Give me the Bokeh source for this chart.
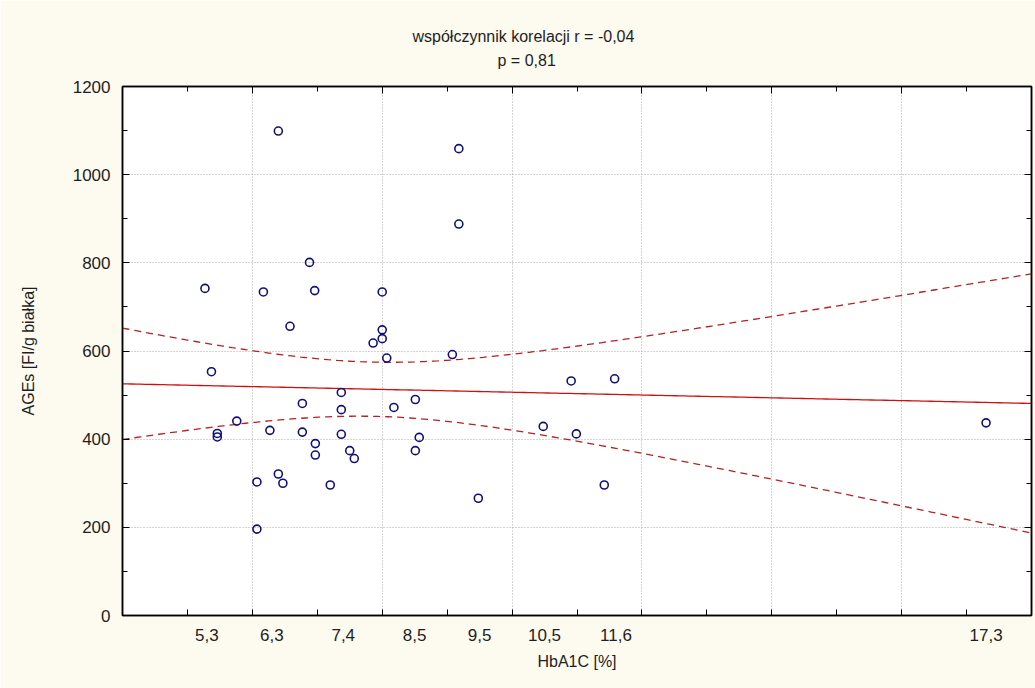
import numpy as np
from bokeh.plotting import figure
from bokeh.models import (FixedTicker, LinearAxis, Range1d, Title,
                          CustomLabelingPolicy, CustomJSTickFormatter)
from bokeh.embed import file_html
from bokeh.resources import INLINE

# HbA1C [%] and AGEs [FI/g białka] for each patient
hba1c = [5.27, 5.37, 5.46, 5.46, 5.76, 6.07, 6.07, 6.17, 6.27, 6.40, 6.40, 6.47,
         6.58, 6.77, 6.77, 6.88, 6.96, 6.97, 6.97, 7.20, 7.37, 7.37, 7.37, 7.50,
         7.57, 7.86, 8.00, 8.00, 8.00, 8.07, 8.18, 8.51, 8.51, 8.57, 9.08, 9.18,
         9.18, 9.48, 10.48, 10.91, 10.99, 11.42, 11.58, 17.30]
ages = [742, 553, 413, 405, 441, 303, 196, 734, 420, 1099, 321, 300,
        656, 481, 416, 801, 737, 390, 364, 296, 506, 467, 411, 374,
        356, 618, 734, 648, 628, 584, 472, 490, 374, 404, 592, 1059,
        888, 266, 429, 532, 412, 296, 537, 437]

x_tick_values = [5.3, 6.3, 7.4, 8.5, 9.5, 10.5, 11.6, 17.3]
x_tick_labels = ["5,3", "6,3", "7,4", "8,5", "9,5", "10,5", "11,6", "17,3"]
y_tick_values = [0, 200, 400, 600, 800, 1000, 1200]

title_line1 = "współczynnik korelacji r = -0,04"
title_line2 = "p = 0,81"

FONT = "Liberation Sans"
TEXT = "#1E1E1E"
BG = "#FDFAF0"

p = figure(width=1035, height=688, output_backend="svg", toolbar_location=None,
           x_range=Range1d(4, 18), y_range=Range1d(0, 1200),
           x_axis_location=None, y_axis_location=None, title=None,
           min_border_left=122, min_border_right=4, min_border_top=86,
           min_border_bottom=73, background_fill_color="white",
           border_fill_color=BG, outline_line_color="black",
           outline_line_width=1.5)

# dotted grid every 2 % and every 200 units
p.xgrid.ticker = FixedTicker(ticks=list(range(6, 18, 2)))
p.ygrid.ticker = FixedTicker(ticks=list(range(200, 1200, 200)))
for g in (p.xgrid, p.ygrid):
    g.grid_line_color = "#A8A8A8"
    g.grid_line_dash = "1 2"
    g.grid_line_width = 1

# least-squares line with 95% confidence band for the mean
x = np.array(hba1c)
y = np.array(ages)
n = len(x)
slope, intercept = np.polyfit(x, y, 1)
resid = y - (intercept + slope * x)
s = np.sqrt(np.sum(resid ** 2) / (n - 2))
sxx = np.sum((x - x.mean()) ** 2)
t_crit = 2.018  # Student t, 0.975, df = 42
xs = np.linspace(4, 18, 200)
fit = intercept + slope * xs
half = t_crit * s * np.sqrt(1.0 / n + (xs - x.mean()) ** 2 / sxx)

p.line(xs, fit, line_color="#D01010", line_width=1.3)
p.line(xs, fit + half, line_color="#B82020", line_width=1.3, line_dash="7 5")
p.line(xs, fit - half, line_color="#B82020", line_width=1.3, line_dash="7 5")

p.scatter(hba1c, ages, marker="circle", size=8, fill_color=None,
          line_color="#10107A", line_width=1.6)

# axes: labelled on left/bottom, tick-only frame on right/top
left = LinearAxis(ticker=FixedTicker(ticks=y_tick_values,
                                     minor_ticks=list(range(100, 1200, 200))),
                  axis_label="AGEs [FI/g białka]")
bottom = LinearAxis(ticker=FixedTicker(ticks=x_tick_values,
                                       minor_ticks=list(range(4, 19))),
                    axis_label="HbA1C [%]")
bottom.major_label_overrides = dict(zip(x_tick_values, x_tick_labels))
right = LinearAxis(ticker=FixedTicker(ticks=y_tick_values,
                                      minor_ticks=list(range(100, 1200, 200))))
top = LinearAxis(ticker=FixedTicker(ticks=list(range(4, 19, 2)),
                                    minor_ticks=list(range(5, 18, 2))))

for ax in (left, bottom, right, top):
    ax.axis_line_color = "black"
    ax.axis_line_width = 1.5
    ax.major_tick_line_color = "black"
    ax.minor_tick_line_color = "black"
    ax.major_tick_in = 7
    ax.major_tick_out = 0
    ax.minor_tick_in = 5
    ax.minor_tick_out = 0
    ax.major_label_text_font = FONT
    ax.major_label_text_font_size = "17px"
    ax.major_label_text_color = TEXT
    ax.axis_label_text_font = FONT
    ax.axis_label_text_font_size = "16px"
    ax.axis_label_text_font_style = "normal"
    ax.axis_label_text_color = TEXT

bottom.major_tick_in = 0
bottom.minor_tick_in = 6
bottom.major_label_standoff = 13
bottom.axis_label_standoff = 9
left.major_label_standoff = 12
left.axis_label_standoff = 33
# right and top axes only carry tick marks; the top one keeps a label
# band (never drawn) that spaces the heading away from the frame
for ax in (right, top):
    ax.major_label_policy = CustomLabelingPolicy(code="return new Set()")
    ax.major_label_standoff = 0
right.formatter = CustomJSTickFormatter(code="return ''")

p.add_layout(left, "left")
p.add_layout(bottom, "below")
p.add_layout(right, "right")
p.add_layout(top, "above")

# two-line heading above the frame
p.add_layout(Title(text=title_line2, align="left", offset=375,
                   text_font=FONT, text_font_size="16px",
                   text_font_style="normal", text_color=TEXT, standoff=6), "above")
p.add_layout(Title(text=title_line1, align="left", offset=290,
                   text_font=FONT, text_font_size="16px",
                   text_font_style="normal", text_color=TEXT, standoff=4), "above")

open("out.html", "w").write(file_html(p, INLINE))
